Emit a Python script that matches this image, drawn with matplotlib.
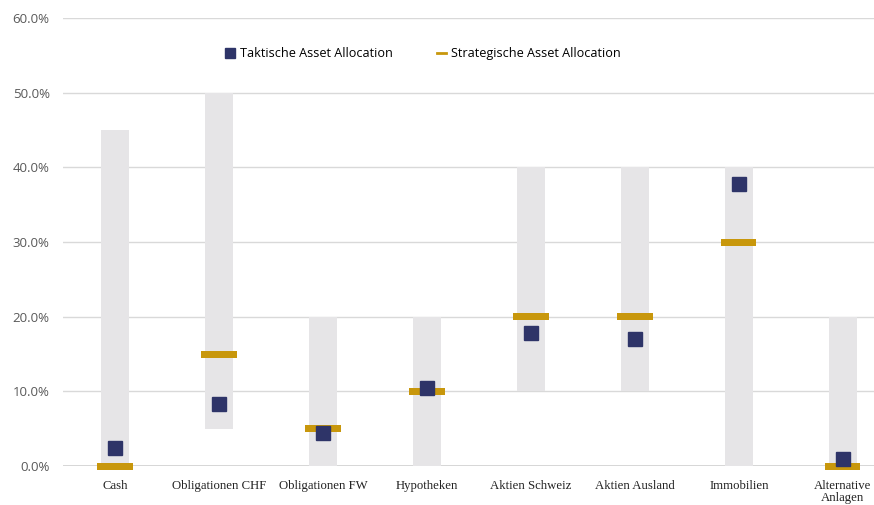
import numpy as np
import matplotlib.pyplot as plt
from matplotlib.lines import Line2D

categories = ['Cash', 'Obligationen CHF', 'Obligationen FW', 'Hypotheken',
              'Aktien Schweiz', 'Aktien Ausland', 'Immobilien', 'Alternative\nAnlagen']
range_min = [0, 5, 0, 0, 10, 10, 0, 0]
range_max = [45, 50, 20, 20, 40, 40, 40, 20]
strategisch = [0, 15, 5, 10, 20, 20, 30, 0]
taktisch = [2.4, 8.3, 4.5, 10.4, 17.8, 17.0, 37.8, 0.9]

fig = plt.figure(figsize=(8.74, 5.05), dpi=100)
ax = fig.add_axes([0.072, 0.077, 0.928, 0.887])

x = np.arange(len(categories))
lo = np.array(range_min)
hi = np.array(range_max)

# Bandbreiten
ax.bar(x, hi - lo, bottom=lo, width=0.27, color='#e6e5e7', zorder=2)
# Strategie: breiter, flacher Balken
ax.bar(x, 0.95, bottom=np.array(strategisch) - 0.475, width=0.34,
       color='#c8970c', zorder=3, clip_on=False)
# Taktik: Quadrate
ax.plot(x, taktisch, 's', color='#2e3468', markersize=9.5, zorder=4,
        linestyle='none', clip_on=False)

ax.set_ylim(0, 60)
ax.set_xlim(-0.5, 7.3)
ax.set_yticks(np.arange(0, 61, 10))
ax.set_yticklabels([f'{v:.1f}%' for v in range(0, 61, 10)],
                   fontfamily='Open Sans', fontsize=9.5, color='#595959')
ax.set_xticks(x)
ax.set_xticklabels(categories, fontfamily='Liberation Serif', fontsize=9.2, color='#222222',
                   linespacing=1.05)
ax.tick_params(axis='both', length=0)
ax.tick_params(axis='y', pad=9.5)
ax.tick_params(axis='x', pad=10)

ax.grid(axis='y', color='#d9d9d9', linewidth=1, zorder=0)
for s in ax.spines.values():
    s.set_visible(False)
ax.axhline(0, color='#cfcfcf', linewidth=1.2, zorder=1)

handles = [
    Line2D([], [], marker='s', color='#2e3468', linestyle='none', markersize=7),
    Line2D([], [], color='#c8970c', linewidth=2),
]
ax.legend(handles, ['Taktische Asset Allocation', 'Strategische Asset Allocation'],
          loc='upper center', bbox_to_anchor=(0.444, 0.96), ncol=2, frameon=False,
          handlelength=0.7, handletextpad=0.4, columnspacing=3.5,
          prop={'family': 'Open Sans', 'size': 9.1})

fig.savefig('out.png', dpi=100)
